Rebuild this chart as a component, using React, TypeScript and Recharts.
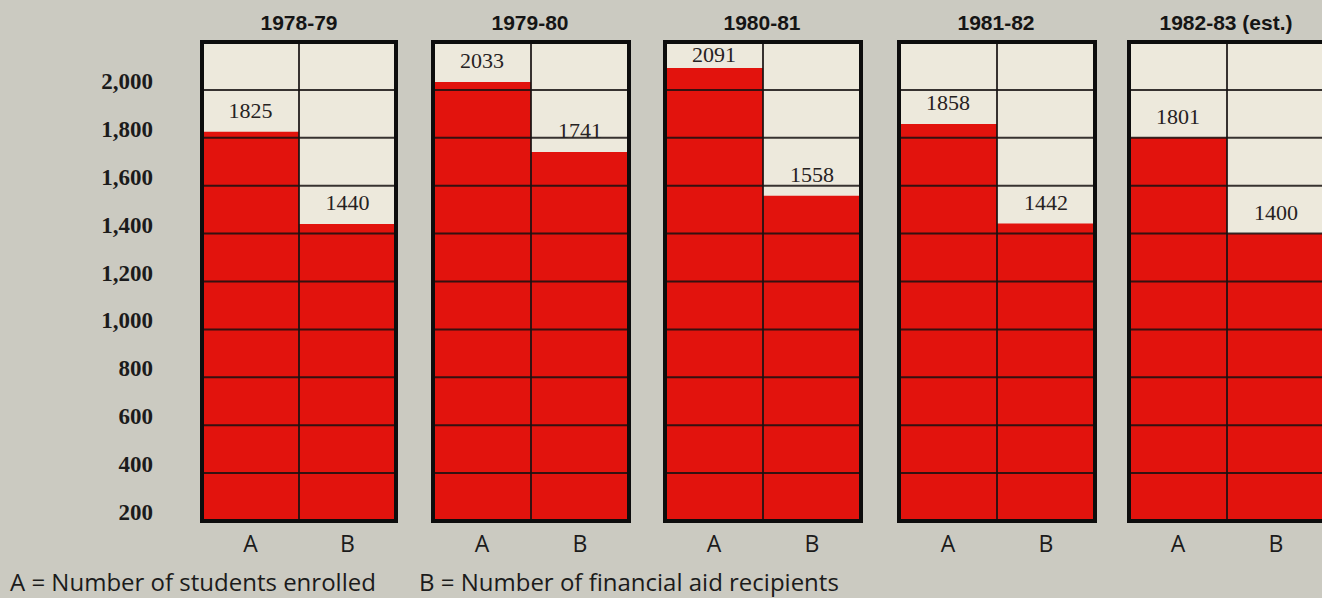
import { Bar, BarChart, CartesianGrid, LabelList, ReferenceArea, ReferenceLine, XAxis, YAxis } from "recharts";

const years = ["1978-79", "1979-80", "1980-81", "1981-82", "1982-83 (est.)"];
const enrolled = [1825, 2033, 2091, 1858, 1801];
const aidRecipients = [1440, 1741, 1558, 1442, 1400];
const columns = ["A", "B"];
const yTicks = [200, 400, 600, 800, 1000, 1200, 1400, 1600, 1800, 2000];
const gridValues = [400, 600, 800, 1000, 1200, 1400, 1600, 1800, 2000];
const legendItems = ["A = Number of students enrolled", "B = Number of financial aid recipients"];

const BG = "#cbcac1";
const PAPER = "#ede9dc";
const RED = "#e2130d";
const INK = "#161212";

const PANEL_LEFT = [200, 433, 665, 899, 1129];
const LEGEND_LEFT = [10, 419];
const PLOT_TOP = 42;

function YTick({ x, y, payload }: any) {
  return (
    <text x={x} y={y} dy={-1} textAnchor="end" fontFamily="'Liberation Serif', serif" fontWeight="bold" fontSize={23} fill="#1b1b1b">
      {Number(payload.value).toLocaleString("en-US")}
    </text>
  );
}

function XTick({ x, y, payload }: any) {
  return (
    <text x={x} y={y} dy={15} textAnchor="middle" fontFamily="'Open Sans', sans-serif" fontSize={23} fill="#1b1b1b">
      {payload.value}
    </text>
  );
}

function ValueLabel({ x, y, width, value }: any) {
  const baseline = Math.max(y - 14, PLOT_TOP + 20);
  return (
    <text x={x + width / 2} y={baseline} textAnchor="middle" fontFamily="'Liberation Serif', serif" fontSize={22} fill="#262222">
      {value}
    </text>
  );
}

function Panel({ index }: { index: number }) {
  const first = index === 0;
  const data = columns.map((name, i) => ({ name, value: i === 0 ? enrolled[index] : aidRecipients[index] }));
  const left = first ? 0 : PANEL_LEFT[index] - 2;
  const width = first ? 398 : 200;
  return (
    <div style={{ position: "absolute", left, top: 0 }}>
      <BarChart
        width={width}
        height={560}
        data={data}
        margin={{ top: PLOT_TOP, right: 2, bottom: 0, left: first ? 0 : 2 }}
        barCategoryGap={0}
        barGap={0}
      >
        <CartesianGrid horizontal={false} vertical={false} fill={PAPER} />
        <XAxis dataKey="name" axisLine={false} tickLine={false} tickSize={0} tickMargin={16} height={39} tick={<XTick />} interval={0} />
        <YAxis
          type="number"
          domain={[200, 2200]}
          ticks={yTicks}
          hide={!first}
          width={first ? 202 : 0}
          axisLine={false}
          tickLine={false}
          tickSize={0}
          tickMargin={49}
          tick={<YTick />}
          interval={0}
        />
        <Bar dataKey="value" fill={RED} isAnimationActive={false}>
          <LabelList dataKey="value" content={<ValueLabel />} />
        </Bar>
        {gridValues.map((v) => (
          <ReferenceLine key={v} y={v} stroke={INK} strokeWidth={2} strokeOpacity={0.85} />
        ))}
        <ReferenceLine x="B" position="start" stroke={INK} strokeWidth={2} strokeOpacity={0.85} />
        <ReferenceArea x1="A" x2="B" y1={200} y2={2200} fill="none" stroke="#0d0d0d" strokeWidth={4} zIndex={900} />
      </BarChart>
      <div
        style={{
          position: "absolute",
          top: 11,
          left: first ? 202 : 2,
          width: 194,
          textAlign: "center",
          fontFamily: "'Liberation Sans', Arial, sans-serif",
          fontWeight: "bold",
          fontSize: 21,
          lineHeight: "24px",
          color: "#151515",
          whiteSpace: "nowrap",
        }}
      >
        {years[index]}
      </div>
    </div>
  );
}

export default function App() {
  return (
    <div style={{ position: "absolute", left: 0, top: 0, width: 1322, height: 598, background: BG, overflow: "hidden" }}>
      {years.map((_, i) => (
        <Panel key={years[i]} index={i} />
      ))}
      {legendItems.map((text, i) => (
        <div
          key={text}
          style={{
            position: "absolute",
            left: LEGEND_LEFT[i],
            top: 566,
            fontFamily: "'Open Sans', sans-serif",
            fontSize: 24,
            lineHeight: "32px",
            color: "#1b1b1b",
            whiteSpace: "nowrap",
          }}
        >
          {text}
        </div>
      ))}
    </div>
  );
}
